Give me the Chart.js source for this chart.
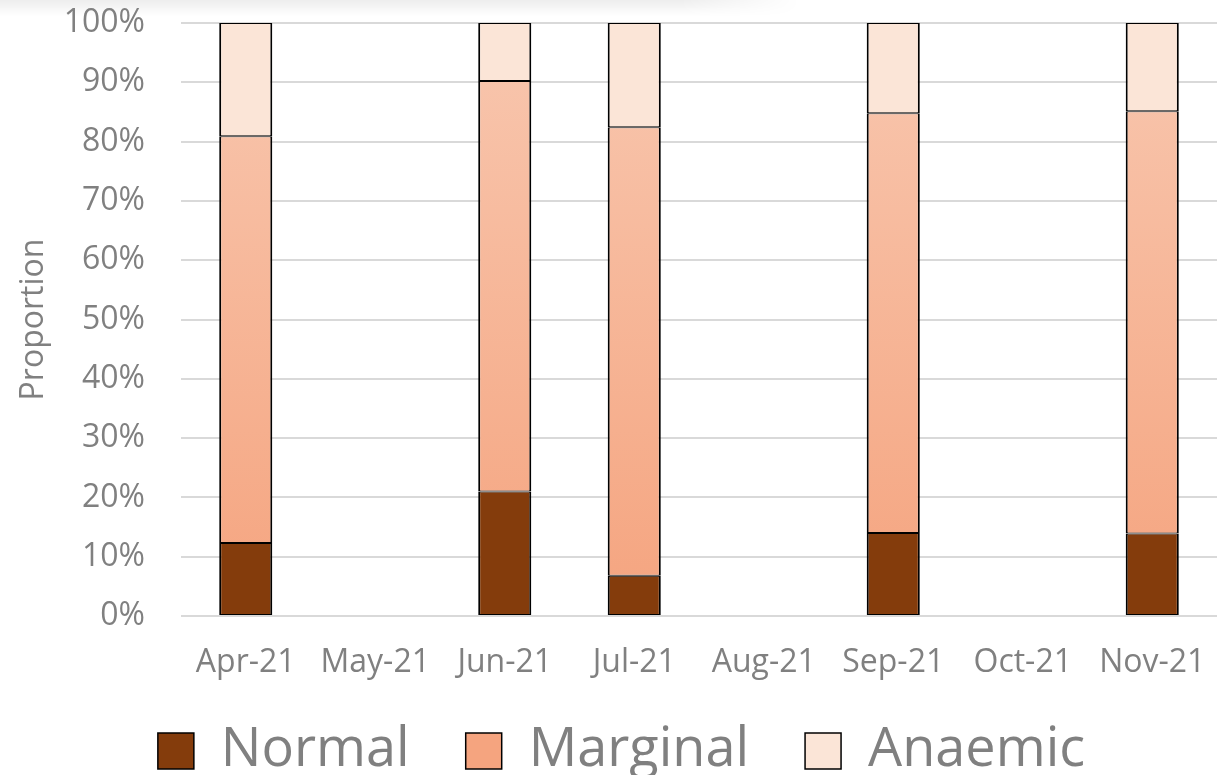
<!DOCTYPE html>
<html>
<head>
<meta charset="utf-8">
<script src="https://cdn.jsdelivr.net/npm/chart.js@4"></script>
<style>
  html, body { margin: 0; padding: 0; background: #fff; }
  #wrap { width: 1218px; height: 775px; position: relative; }
  #shade {
    position: absolute; left: 0; top: 0; width: 800px; height: 16px;
    background: linear-gradient(to bottom, rgba(0,0,0,0.07), rgba(0,0,0,0));
    -webkit-mask-image: linear-gradient(to right, #000 85%, transparent);
  }
  canvas { position: absolute; left: 0; top: 0; }
</style>
</head>
<body>
<div id="wrap"><div id="shade"></div><canvas id="chart" width="1218" height="775"></canvas></div>
<script>
const months = ['Apr-21', 'May-21', 'Jun-21', 'Jul-21', 'Aug-21', 'Sep-21', 'Oct-21', 'Nov-21'];
const normal = [12.3, null, 21.0, 6.8, null, 14.0, null, 13.9];
const marginal = [68.6, null, 69.2, 75.6, null, 70.8, null, 71.2];
const anaemic = [19.1, null, 9.8, 17.6, null, 15.2, null, 14.9];

const grey = '#808080';
const font = '"Open Sans", sans-serif';

// Marginal fill fades from salmon at the bottom to a lighter peach at the top
function marginalFill(ctx) {
  const area = ctx.chart.chartArea;
  if (!area) return '#F6B394';
  const g = ctx.chart.ctx.createLinearGradient(0, area.bottom, 0, area.top);
  g.addColorStop(0, '#F5A47F');
  g.addColorStop(1, '#F8C7AF');
  return g;
}

const barOpts = {
  borderColor: '#000',
  borderWidth: { left: 2, right: 2, top: 1, bottom: 1 },
  borderSkipped: false,
  barPercentage: 0.41,
  categoryPercentage: 1.0
};

// nudge the legend a bit up and right so it sits where the original one does
const legendNudge = {
  id: 'legendNudge',
  afterLayout(chart) {
    const lg = chart.legend;
    lg.top -= 22; lg.bottom -= 22;
    lg.left += 13; lg.right += 13;
  }
};

new Chart(document.getElementById('chart'), {
  type: 'bar',
  data: {
    labels: months,
    datasets: [
      { label: 'Normal', data: normal, backgroundColor: '#843C0C', ...barOpts },
      { label: 'Marginal', data: marginal, backgroundColor: marginalFill, ...barOpts },
      { label: 'Anaemic', data: anaemic, backgroundColor: '#FBE5D7', ...barOpts }
    ]
  },
  plugins: [legendNudge],
  options: {
    responsive: false,
    animation: false,
    layout: { padding: { top: 23, right: 1, left: 0, bottom: -35 } },
    plugins: {
      tooltip: { enabled: false },
      legend: {
        position: 'bottom',
        labels: {
          color: grey,
          boxWidth: 36,
          boxHeight: 36,
          padding: 56,
          font: { family: font, size: 54 }
        }
      }
    },
    scales: {
      x: {
        stacked: true,
        grid: { display: false, drawTicks: false },
        border: { display: false },
        ticks: { color: grey, padding: 28, font: { family: font, size: 32 } },
        afterFit: s => { s.height = 74; s.paddingLeft = 0; s.paddingRight = 0; }
      },
      y: {
        stacked: true,
        min: 0,
        max: 100,
        grid: { color: '#D9D9D9', lineWidth: 2, drawTicks: false },
        border: { display: false },
        ticks: {
          stepSize: 10,
          color: grey,
          padding: 36,
          font: { family: font, size: 32 },
          callback: v => v + '%'
        },
        title: {
          display: true,
          text: 'Proportion',
          color: grey,
          font: { family: font, size: 32 },
          padding: { top: 15, bottom: 0 }
        },
        afterFit: s => { s.width = 181; s.paddingTop = 0; s.paddingBottom = 0; }
      }
    }
  }
});
</script>
</body>
</html>
